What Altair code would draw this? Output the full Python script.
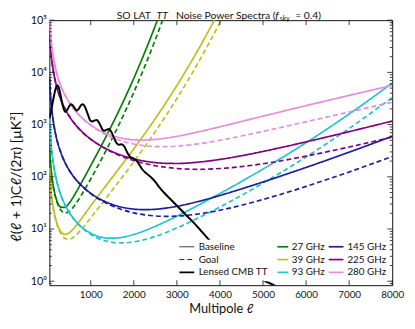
import altair as alt
import pandas as pd

FONT = "Lato"
W, H = 348, 269

ELL = [40, 50, 60, 80, 100, 130, 170, 220, 300, 400, 500, 650, 800, 1000, 1200,
       1400, 1600, 1800, 2000, 2250, 2500, 2750, 3000, 3500, 4000, 4500, 5000,
       5500, 6000, 6500, 7000, 7500, 8000]

FREQS = ["27 GHz", "39 GHz", "93 GHz", "145 GHz", "225 GHz", "280 GHz"]
COLORS = ["#008000", "#bfbf1a", "#1fc3d3", "#1c1c9c", "#800080", "#e48de0"]

BASELINE = {
    "27 GHz": [377, 270, 205.5, 134.2, 96.6, 66.3, 46.0, 33.8, 26.3, 26.0, 31.4, 49.0, 81.4,
               163.5, 333, 694, 1489, 3317, 7717, 23700, 78870, 285700],
    "39 GHz": [146.9, 105.1, 80.0, 52.1, 37.4, 25.5, 17.45, 12.46, 9.03, 7.92, 8.49, 11.37,
               16.5, 27.7, 46.1, 76.0, 125.0, 206.4, 343.6, 661.8, 1308, 2662, 5604, 27700,
               160200],
    "93 GHz": [1300, 900, 660, 410, 285, 185, 118, 77, 46, 29.5, 20.8, 14.2, 10.7, 8.3,
               7.13, 6.70, 6.73, 7.13, 7.86, 9.27, 11.28, 14.0, 17.6, 28.7, 47.8, 81.2, 140.6,
               248.8, 450.4, 836, 1593, 3119, 6282],
    "145 GHz": [7800, 5500, 4100, 2600, 1800, 1170, 750, 490, 300, 190, 134, 90, 66.3,
                48.4, 38.0, 31.8, 27.8, 25.4, 24.05, 23.5, 23.9, 25.2, 27.2, 33.7, 43.9, 58.6,
                79.6, 109.3, 151.3, 210.9, 296.2, 419.1, 597.8],
    "225 GHz": [64000, 45770, 34820, 22630, 16180, 10920, 7306, 4962, 3117, 2030, 1455, 986,
                727, 526, 408, 332, 280, 245, 220, 200, 187, 181, 180, 191, 215, 253, 306, 376,
                467, 584, 733, 924, 1168],
    "280 GHz": [116600, 83400, 63400, 41240, 29480, 19900, 13310, 9042, 5688, 3701, 2657,
                1806, 1340, 984, 780, 656, 580, 535, 512, 506, 520, 551, 596, 726, 908, 1148,
                1452, 1833, 2307, 2894, 3621, 4522, 5639],
}

GOAL = {
    "27 GHz": [376.5, 269.7, 205.4, 134.0, 96.3, 65.7, 45.1, 32.2, 23.3, 20.3, 21.7, 30.1,
               47.0, 90.9, 182.3, 376, 804, 1786, 4150, 12740, 42350, 153300],
    "39 GHz": [146.9, 105.0, 79.9, 52.0, 37.3, 25.4, 17.2, 12.09, 8.32, 6.62, 6.38, 7.56,
               10.22, 16.35, 26.6, 43.5, 71.1, 116.9, 194.3, 373.6, 737.5, 1500, 3156, 15600,
               90180, 616000],
    "93 GHz": [1300, 900, 660, 410, 285, 185, 118, 77, 45.9, 29.4, 20.7, 14.0, 10.46, 7.86,
               6.48, 5.77, 5.46, 5.44, 5.67, 6.26, 7.22, 8.60, 10.47, 16.3, 26.4, 44.1, 75.7,
               133, 240, 444, 844, 1649, 3317],
    "145 GHz": [7800, 5500, 4100, 2600, 1800, 1170, 750, 490, 300, 190, 133.8, 89.7, 65.8,
                47.5, 36.8, 30.1, 25.5, 22.5, 20.4, 18.7, 17.8, 17.5, 17.7, 19.4, 22.9, 28.5,
                36.8, 48.6, 65.5, 89.6, 124.0, 173.6, 245.6],
    "225 GHz": [64000, 45770, 34820, 22630, 16180, 10920, 7306, 4962, 3117, 2029, 1454, 985,
                724, 523, 403, 325, 271, 233, 205, 180, 163, 152, 144, 139, 144, 157, 178, 208,
                249, 303, 372, 461, 575],
    "280 GHz": [116600, 83400, 63400, 41240, 29480, 19900, 13310, 9042, 5680, 3692, 2647,
                1793, 1326, 963, 749, 614, 524, 464, 424, 393, 379, 377, 386, 428, 501, 604,
                740, 914, 1133, 1405, 1744, 2165, 2688],
}

# lensed CMB TT spectrum
CMB_ELL = [40, 60, 80, 100, 130, 160, 190, 220, 250, 280, 320, 360, 410, 460, 500, 540,
           580, 630, 680, 730, 780, 820, 870, 930, 990, 1040, 1090, 1140, 1190, 1250, 1300,
           1360, 1420, 1480, 1540, 1600, 1660, 1720, 1780, 1850, 1920, 1990, 2050, 2120,
           2200, 2300, 2400, 2500, 2600, 2700, 2800, 2900, 3000, 3200, 3400, 3600, 3800,
           4000, 4500, 5000, 5300, 5500]
CMB_DL = [1300, 1550, 1850, 2250, 3000, 4000, 5000, 5700, 5400, 4400, 3000, 2150, 1750,
          1950, 2250, 2450, 2350, 2050, 1850, 2050, 2380, 2450, 2150, 1600, 1200, 1150, 1200,
          1230, 1100, 870, 760, 790, 820, 720, 560, 440, 410, 420, 380, 290, 240, 225, 210,
          175, 138, 115, 98, 80, 62, 50, 41, 34, 28, 19, 13, 8.5, 5.6, 4.0, 1.9, 1.05, 0.8,
          0.62]

X_TICKS = [1000, 2000, 3000, 4000, 5000, 6000, 7000, 8000]
Y_MAJOR = [1, 10, 100, 1000, 10000, 100000]

rows = []
for f in FREQS:
    for kind, table in (("Baseline", BASELINE), ("Goal", GOAL)):
        for l, v in zip(ELL, table[f]):
            rows.append({"ell": l, "D": v, "freq": f, "kind": kind, "key": f + " " + kind})
noise = pd.DataFrame(rows)
cmb = pd.DataFrame({"ell": CMB_ELL, "D": CMB_DL})

y_minor = [m * 10.0 ** k for k in range(-1, 5) for m in range(2, 10)]
y_minor = [v for v in y_minor if 0.84 <= v <= 1e5]
ymaj_df = pd.DataFrame({"D": Y_MAJOR})
ymin_df = pd.DataFrame({"D": y_minor})
xt_df = pd.DataFrame({"ell": X_TICKS})
dummy = pd.DataFrame({"a": [0]})

xscale = alt.Scale(domain=[40, 8000], nice=False, zero=False)
yscale = alt.Scale(type="log", domain=[0.84, 100000], nice=False)
xaxis = alt.Axis(values=X_TICKS, format="d", ticks=False, domain=False, grid=False,
                 labelFlush=False, labelFont=FONT, labelFontSize=10, labelColor="#111",
                 labelPadding=5, title="Multipole ℓ", titleFont=FONT, titleFontSize=13,
                 titleFontWeight="normal", titleColor="#111", titlePadding=3)
yaxis = alt.Axis(values=Y_MAJOR, ticks=False, domain=False, grid=False,
                 labelExpr="'10' + ['⁰','¹','²','³','⁴','⁵'][round(log(datum.value)/LN10)]",
                 labelFont=FONT, labelFontSize=11, labelColor="#111", labelPadding=3,
                 title=None)
X = alt.X("ell:Q", scale=xscale, axis=xaxis)
Y = alt.Y("D:Q", scale=yscale, axis=yaxis)

noise_layer = alt.Chart(noise).mark_line(clip=True, interpolate="monotone", strokeWidth=1.7).encode(
    x=X, y=Y,
    color=alt.Color("freq:N", scale=alt.Scale(domain=FREQS, range=COLORS), legend=None),
    strokeDash=alt.StrokeDash("kind:N", scale=alt.Scale(domain=["Baseline", "Goal"],
                                                         range=[[1, 0], [5, 3]]), legend=None),
    detail="key:N",
)
cmb_layer = alt.Chart(cmb).mark_line(clip=True, interpolate="monotone", color="black",
                                     strokeWidth=2).encode(x=X, y=Y)

tick_color = "#111"
ticks = [
    alt.Chart(ymaj_df).mark_rule(color=tick_color, strokeWidth=0.8).encode(y=Y, x=alt.value(0), x2=alt.value(5)),
    alt.Chart(ymaj_df).mark_rule(color=tick_color, strokeWidth=0.8).encode(y=Y, x=alt.value(W - 5), x2=alt.value(W)),
    alt.Chart(ymin_df).mark_rule(color=tick_color, strokeWidth=0.8).encode(y=Y, x=alt.value(0), x2=alt.value(2.5)),
    alt.Chart(ymin_df).mark_rule(color=tick_color, strokeWidth=0.8).encode(y=Y, x=alt.value(W - 2.5), x2=alt.value(W)),
    alt.Chart(xt_df).mark_rule(color=tick_color, strokeWidth=0.8).encode(x=X, y=alt.value(H - 5), y2=alt.value(H)),
    alt.Chart(xt_df).mark_rule(color=tick_color, strokeWidth=0.8).encode(x=X, y=alt.value(0), y2=alt.value(5)),
]

legend_box = alt.Chart(dummy).mark_rect(color="white").encode(
    x=alt.value(128), x2=alt.value(342), y=alt.value(223), y2=alt.value(265))

legend_layers = []
row_y = [230, 243, 256]
col1 = [("Baseline", "#222", [1, 0], 1.0), ("Goal", "#222", [5, 3], 1.0),
        ("Lensed CMB TT", "black", [1, 0], 2.0)]
for i, (lab, col, dash, sw) in enumerate(col1):
    legend_layers.append(alt.Chart(dummy).mark_rule(color=col, strokeDash=dash, strokeWidth=sw).encode(
        x=alt.value(132), x2=alt.value(147), y=alt.value(row_y[i])))
    legend_layers.append(alt.Chart(dummy).mark_text(text=lab, align="left", baseline="middle",
                                                    font=FONT, fontSize=10, color="#111").encode(
        x=alt.value(151.5), y=alt.value(row_y[i])))
for i, f in enumerate(FREQS):
    c, r = divmod(i, 3)
    x1, x2, xt = (231.5, 242.5, 246) if c == 0 else (283.5, 298.5, 302.5)
    legend_layers.append(alt.Chart(dummy).mark_rule(color=COLORS[i], strokeWidth=1.7).encode(
        x=alt.value(x1), x2=alt.value(x2), y=alt.value(row_y[r])))
    legend_layers.append(alt.Chart(dummy).mark_text(text=f, align="left", baseline="middle",
                                                    font=FONT, fontSize=10, color="#111").encode(
        x=alt.value(xt), y=alt.value(row_y[r])))

TY = -4.5
title_parts = [
    ("SO LAT", 68.3, TY, 10.5, "normal"),
    ("TT", 108.8, TY, 10.5, "italic"),
    ("Noise Power Spectra (", 128.5, TY, 10.5, "normal"),
    ("f", 229.3, TY, 10.5, "italic"),
    ("sky", 233.8, TY + 3, 7, "normal"),
    ("= 0.4)", 249.5, TY, 10.5, "normal"),
]
title_layers = [
    alt.Chart(dummy).mark_text(text=t, align="left", baseline="middle", font=FONT, fontSize=fs,
                               fontStyle=st, color="#111").encode(x=alt.value(x), y=alt.value(y))
    for t, x, y, fs, st in title_parts
]
ytitle = alt.Chart(dummy).mark_text(text="ℓ(ℓ + 1)Cℓ/(2π) [μK²]", angle=270, align="center",
                                    baseline="middle", font=FONT, fontSize=14.5, color="#111").encode(
    x=alt.value(-33), y=alt.value(159))

chart = alt.layer(
    noise_layer, cmb_layer, legend_box, *legend_layers, *ticks, *title_layers, ytitle
).properties(
    width=W, height=H,
    padding={"left": 42, "top": 10, "right": 15, "bottom": 34},
    autosize=alt.AutoSizeParams(type="none"),
).configure_view(stroke="#111", strokeWidth=1)

chart.save("out.html", embed_options={"renderer": "svg", "actions": False})
